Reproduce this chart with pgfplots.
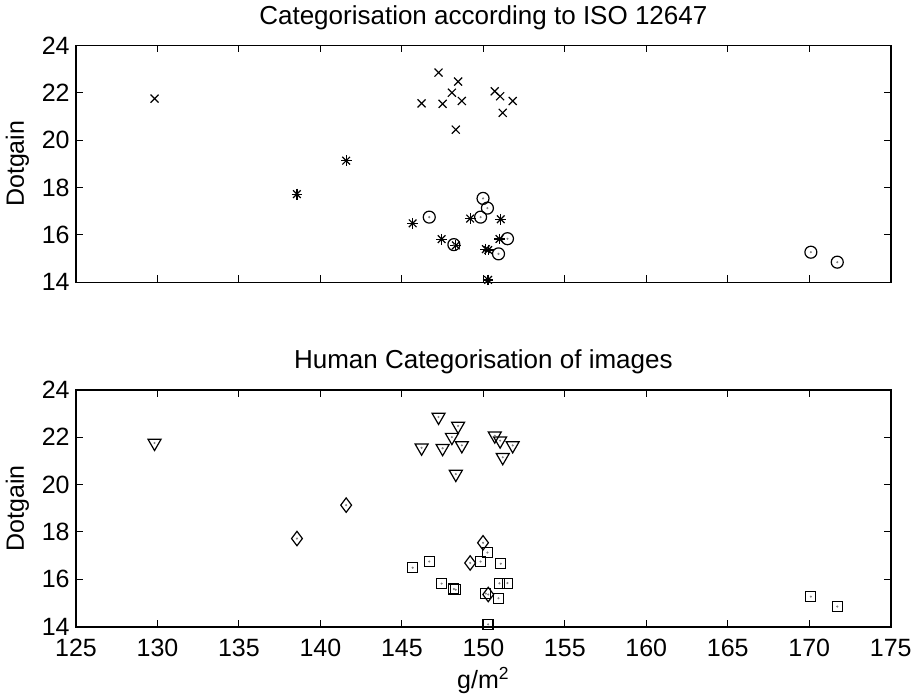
\documentclass[border=0pt]{standalone}
\usepackage{fontspec}
\setmainfont{Liberation Sans}
\usepackage{pgfplots}
\pgfplotsset{compat=1.18}
\begin{document}
\fontsize{12.5}{15}\selectfont
\begin{tikzpicture}
\pgfplotsset{
  mystyle/.style={
    scale only axis, width=407.35pt, height=118.5pt,
    xmin=125, xmax=175, ymin=14, ymax=24,
    xtick={125,130,...,175}, ytick={14,16,...,24},
    tick align=inside, tick pos=both, major tick length=3.5pt,
    axis line style={line width=0.8pt, black},
    every tick/.style={black, line width=0.5pt},
    /pgf/number format/assume math mode=true,
    ticklabel style={font=\fontsize{12.5}{15}\selectfont},
    yticklabel style={anchor=east, inner sep=0pt, xshift=-3pt},
    xticklabel style={anchor=base, inner sep=0pt, yshift=-15pt},
    every axis title shift=0pt,
    title style={at={(axis description cs:0.5,1)}, anchor=base, yshift=10.5pt, inner sep=0pt, font=\fontsize{13}{15}\selectfont},
    ylabel style={at={(axis description cs:-0.072,0.5)}, anchor=center, font=\fontsize{12.5}{15}\selectfont},
    xlabel style={at={(axis description cs:0.5,0)}, anchor=base, yshift=-30.65pt, font=\fontsize{12.5}{15}\selectfont},
    clip=false,
  },
  dots/.style={only marks, mark=*, mark size=0.3pt, gray, mark options={draw=gray, fill=gray}},
}
% ---------- top axis ----------
\begin{axis}[mystyle, at={(38pt,207.85pt)}, anchor=south west,
  xticklabels={}, ylabel={Dotgain},
  title={Categorisation according to ISO 12647}]
% x marks
\addplot[only marks, mark=x, mark size=2.83pt, black, line width=0.6pt] coordinates {
(129.82,21.75) (147.25,22.85) (148.45,22.47) (148.07,22.00) (146.21,21.55) (147.50,21.53)
(148.68,21.65) (148.31,20.44) (150.70,22.06) (151.03,21.85) (151.80,21.65) (151.19,21.15)};
% asterisks (plus + x)
\addplot[only marks, mark=+, mark size=2.7pt, black, line width=0.6pt] coordinates {
(141.58,19.13) (138.56,17.72) (145.66,16.49) (147.44,15.82) (148.31,15.56) (149.19,16.69)
(150.15,15.40) (150.30,15.36) (151.07,16.66) (150.99,15.83) (150.29,14.10)};
\addplot[only marks, mark=x, mark size=2.7pt, black, line width=0.6pt] coordinates {
(141.58,19.13) (138.56,17.72) (145.66,16.49) (147.44,15.82) (148.31,15.56) (149.19,16.69)
(150.15,15.40) (150.30,15.36) (151.07,16.66) (150.99,15.83) (150.29,14.10)};
% circles
\addplot[only marks, mark=o, mark size=3pt, black, line width=0.6pt] coordinates {
(146.68,16.75) (149.98,17.54) (150.25,17.13) (149.83,16.75) (148.19,15.59) (151.48,15.84)
(150.93,15.20) (170.10,15.27) (171.72,14.85)};
\addplot[dots] coordinates {
(146.68,16.75) (149.98,17.54) (150.25,17.13) (149.83,16.75) (148.19,15.59) (151.48,15.84)
(150.93,15.20) (170.10,15.27) (171.72,14.85)};
\end{axis}
% ---------- bottom axis ----------
\begin{axis}[mystyle, at={(38pt,35.65pt)}, anchor=south west,
  ylabel={Dotgain}, xlabel={g/m\textsuperscript{2}},
  title={Human Categorisation of images}]
% triangles (down)
\addplot[only marks, mark=triangle, mark size=3.75pt, black, line width=0.6pt, mark options={rotate=180}] coordinates {
(129.82,21.75) (147.25,22.85) (148.45,22.47) (148.07,22.00) (146.21,21.55) (147.50,21.53)
(148.68,21.65) (148.31,20.44) (150.70,22.06) (151.03,21.85) (151.80,21.65) (151.19,21.15)};
% diamonds
\addplot[only marks, mark=diamond, mark size=3.6pt, black, line width=0.6pt] coordinates {
(141.58,19.13) (138.56,17.72) (149.19,16.69) (149.98,17.54) (150.30,15.36)};
% squares
\addplot[only marks, mark=square, mark size=2.5pt, black, line width=0.6pt] coordinates {
(145.66,16.49) (146.68,16.75) (147.44,15.82) (148.19,15.59) (148.31,15.56) (149.83,16.75)
(150.25,17.13) (151.07,16.66) (150.99,15.83) (151.48,15.84) (150.15,15.40) (150.93,15.20)
(150.29,14.10) (170.10,15.27) (171.72,14.85)};
\addplot[dots] coordinates {
(129.82,21.75) (147.25,22.85) (148.45,22.47) (148.07,22.00) (146.21,21.55) (147.50,21.53)
(148.68,21.65) (148.31,20.44) (150.70,22.06) (151.03,21.85) (151.80,21.65) (151.19,21.15)
(141.58,19.13) (138.56,17.72) (149.19,16.69) (149.98,17.54) (150.30,15.36)
(145.66,16.49) (146.68,16.75) (147.44,15.82) (148.19,15.59) (148.31,15.56) (149.83,16.75)
(150.25,17.13) (151.07,16.66) (150.99,15.83) (151.48,15.84) (150.15,15.40) (150.93,15.20)
(150.29,14.10) (170.10,15.27) (171.72,14.85)};
\end{axis}
\pgfresetboundingbox
\path[use as bounding box] (0,0) rectangle (459.5pt,349pt);
\end{tikzpicture}
\end{document}
